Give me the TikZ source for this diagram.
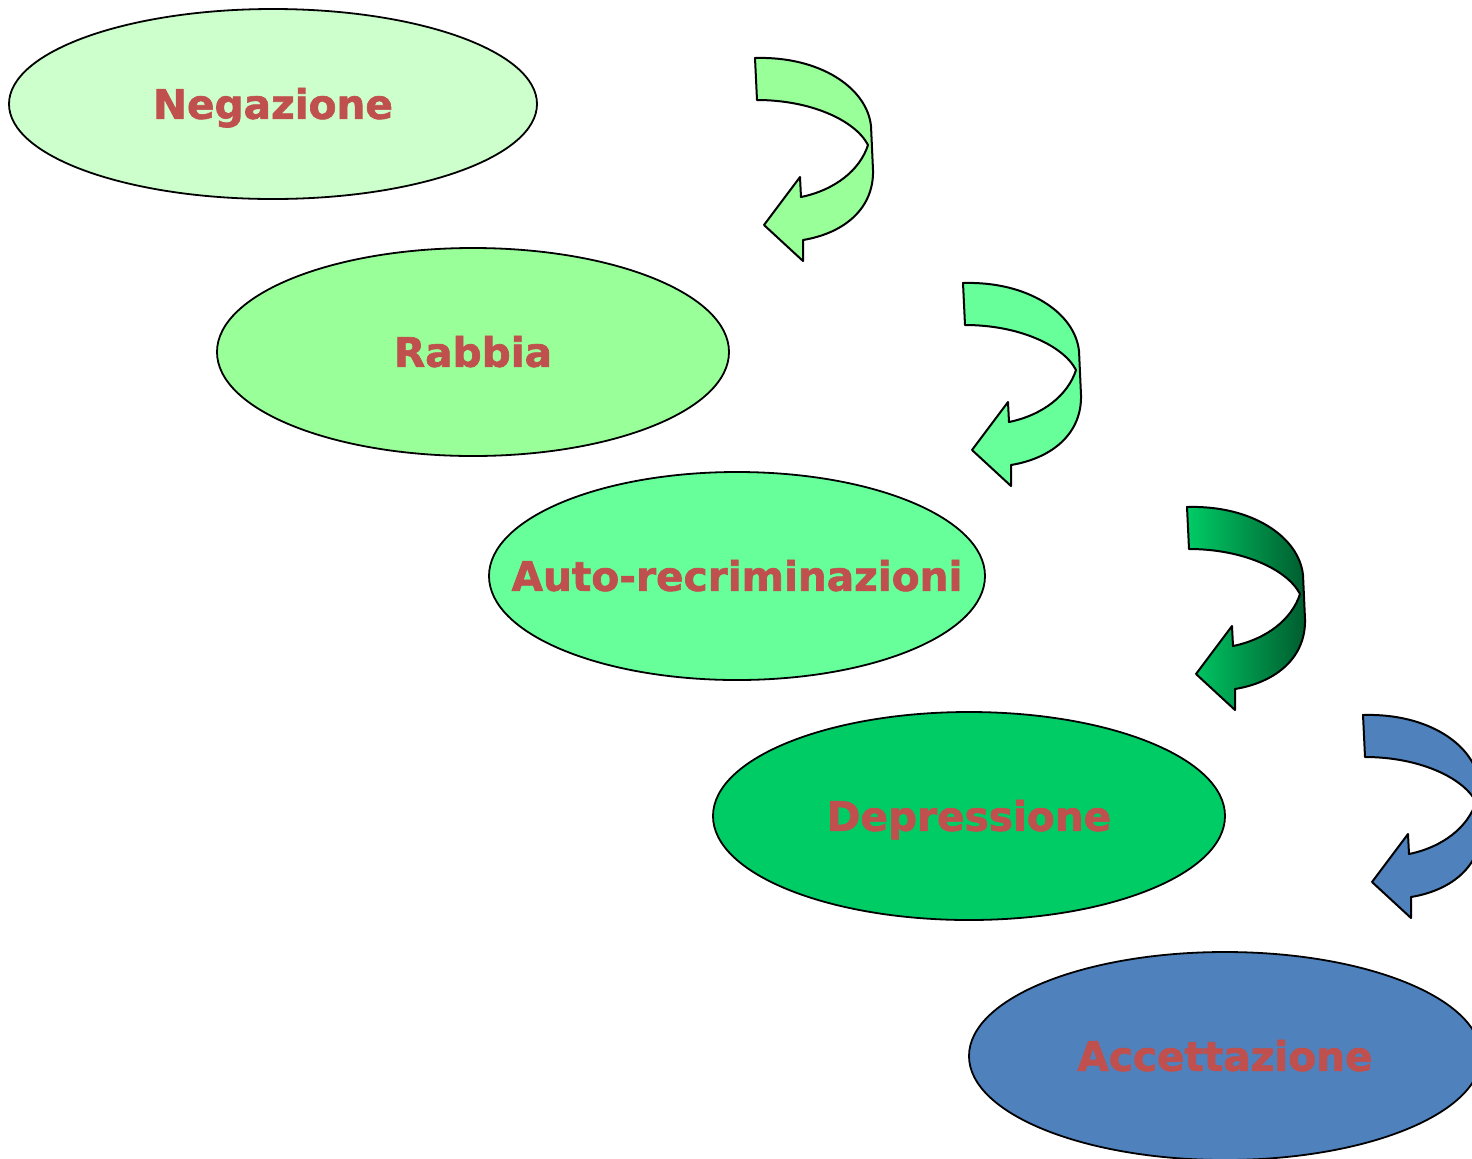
\documentclass[tikz,border=0pt]{standalone}
\usepackage{fontspec}
\setmainfont{DejaVu Sans}
\newfontfamily\stagefont{DejaVu Sans Bold}[FakeBold=1.6]
\usetikzlibrary{shapes.geometric}
\definecolor{negfill}{HTML}{CCFFCC}
\definecolor{rabfill}{HTML}{99FF99}
\definecolor{autofill}{HTML}{66FF99}
\definecolor{depfill}{HTML}{00CC66}
\definecolor{accfill}{HTML}{4F81BD}
\definecolor{darkgreen}{HTML}{005C2E}
\definecolor{labelred}{HTML}{C0504D}
\tikzset{
  stage/.style={ellipse, draw, line width=0.9pt, inner sep=0pt},
  stagetext/.style={text=labelred, font=\fontsize{20.3}{24}\stagefont,
    inner sep=0pt, text height=14.8pt, text depth=0pt},
  pics/turnarrow/.style={code={
    \draw[line width=1pt, line join=round, #1]
      (0,0) .. controls (65,-2) and (112,30) .. (116,68) -- (118,112)
      .. controls (119,150) and (90,175) .. (48,182) -- (48,203) -- (9,167)
      -- (45,119) -- (46,139) .. controls (80,132) and (105,112) .. (113,87)
      .. controls (100,62) and (55,42) .. (2,42) -- cycle;
  }}
}
\begin{document}
\begin{tikzpicture}[x=0.5pt, y=-0.5pt]
  \useasboundingbox (0,0) rectangle (1472,1158);
  \clip (0,0) rectangle (1472,1158);

  \node[stage, fill=negfill, minimum width=264pt, minimum height=95pt] (neg) at (273,104) {};
  \node[stage, fill=rabfill, minimum width=256pt, minimum height=104pt] (rab) at (473,352) {};
  \node[stage, fill=autofill, minimum width=248pt, minimum height=104pt] (auto) at (737,576) {};
  \node[stage, fill=depfill, minimum width=256pt, minimum height=104pt] (dep) at (969,816) {};
  \node[stage, fill=accfill, minimum width=256pt, minimum height=104pt] (acc) at (1225,1056) {};

  \node[stagetext] (negtext) at (neg) {Negazione};
  \node[stagetext] (rabtext) at (rab) {Rabbia};
  \node[stagetext] (autotext) at (auto) {Auto-recriminazioni};
  \node[stagetext] (deptext) at (dep) {Depressione};
  \node[stagetext] (acctext) at (acc) {Accettazione};

  \pic (arrowa) at (755,58) {turnarrow={fill=rabfill}};
  \pic (arrowb) at (963,283) {turnarrow={fill=autofill}};
  \pic (arrowc) at (1187,507) {turnarrow={left color=depfill, right color=darkgreen}};
  \pic (arrowd) at (1363,715) {turnarrow={fill=accfill}};
\end{tikzpicture}
\end{document}
